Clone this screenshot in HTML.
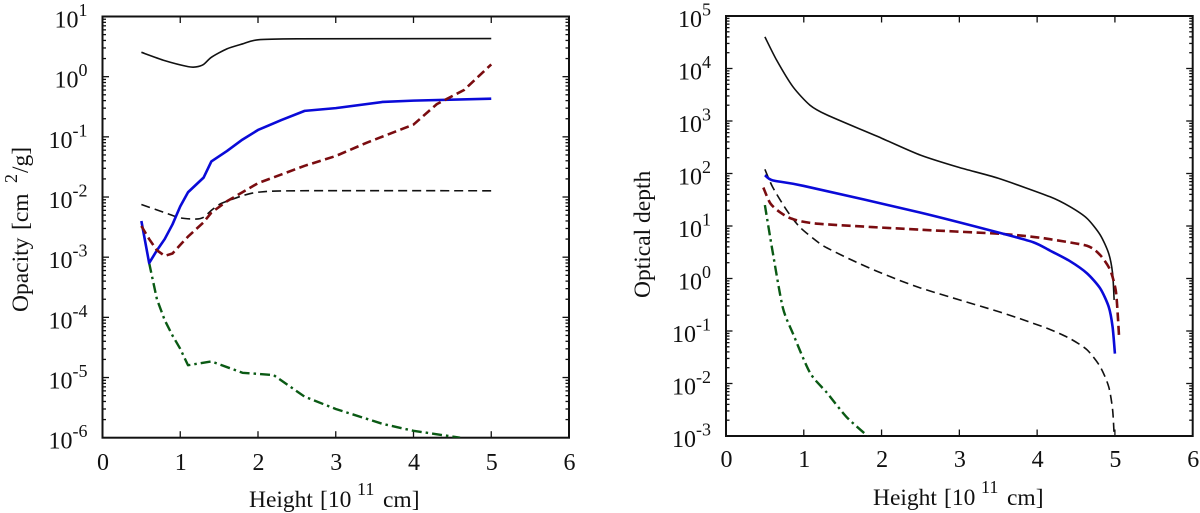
<!DOCTYPE html>
<html lang="en">
<head>
<meta charset="utf-8">
<title>Opacity and optical depth versus height</title>
<style>
html,body{margin:0;padding:0;background:#fff;width:1200px;height:513px;overflow:hidden}
svg{display:block}
text{font-family:"Liberation Serif",serif;fill:#111}
</style>
</head>
<body>
<svg id="fig" width="1200" height="513" viewBox="0 0 1200 513" xmlns="http://www.w3.org/2000/svg">
  <defs>
    <clipPath id="clipL"><rect x="102.5" y="16.5" width="466.5" height="421.2"/></clipPath>
    <clipPath id="clipR"><rect x="726" y="16" width="466.7" height="420"/></clipPath>
  </defs>
  <text y="507" font-size="23.5"><tspan x="249">Height</tspan><tspan x="320">[10</tspan><tspan x="357" y="495" font-size="18">11</tspan><tspan x="383" y="507">cm]</tspan></text>
  <text transform="translate(28,312) rotate(-90)" font-size="23.5"><tspan x="0" y="0">Opacity</tspan><tspan x="82" y="0">[cm</tspan><tspan x="129" y="-11" font-size="18">2</tspan><tspan x="139" y="0">/g]</tspan></text>
  <text y="505" font-size="23.5"><tspan x="873">Height</tspan><tspan x="944">[10</tspan><tspan x="981" y="493" font-size="18">11</tspan><tspan x="1007" y="505">cm]</tspan></text>
  <text transform="translate(650,298) rotate(-90)" font-size="23.5">Optical depth</text>
</svg>
<script>
// Shared x axis ticks
const xTicks = [0, 1, 2, 3, 4, 5, 6];

// Left panel: opacity exponents for the y axis
const opacityExponents = [1, 0, -1, -2, -3, -4, -5, -6];

// Left panel series (height, opacity)
const opBlackSolidX = [0.5, 0.8, 1.1, 1.2, 1.3, 1.4, 1.6, 1.8, 2, 2.5, 5];
const opBlackSolidY = [2.54, 1.85, 1.47, 1.45, 1.6, 2.1, 2.9, 3.5, 4.1, 4.25, 4.3];
const opBlackDashX = [0.5, 0.8, 1, 1.2, 1.3, 1.4, 1.5, 1.6, 1.8, 2, 2.5, 5];
const opBlackDashY = [7.5e-3, 5.5e-3, 4.5e-3, 4.3e-3, 4.6e-3, 6e-3, 7.5e-3, 8.5e-3, 1.05e-2, 1.2e-2, 1.27e-2, 1.27e-2];
const opBlueX = [0.5, 0.6, 0.7, 0.8, 0.9, 1, 1.1, 1.3, 1.4, 1.6, 1.8, 2, 2.3, 2.6, 3, 3.6, 4, 5];
const opBlueY = [4e-3, 8e-4, 1.3e-3, 2e-3, 3.5e-3, 7e-3, 1.2e-2, 2.1e-2, 3.9e-2, 5.8e-2, 9e-2, 0.13, 0.19, 0.27, 0.3, 0.38, 0.4, 0.43];
const opRedX = [0.5, 0.6, 0.7, 0.8, 0.9, 1, 1.1, 1.3, 1.4, 1.6, 1.8, 2, 2.6, 3, 3.4, 4, 4.3, 4.65, 5];
const opRedY = [3.3e-3, 2e-3, 1.3e-3, 1.05e-3, 1.15e-3, 1.6e-3, 2.2e-3, 3.8e-3, 5.5e-3, 8.5e-3, 1.2e-2, 1.7e-2, 3.3e-2, 4.8e-2, 8e-2, 0.16, 0.35, 0.6, 1.6];
const opGreenX = [0.6, 0.7, 0.8, 0.9, 1, 1.1, 1.4, 1.8, 2.2, 2.6, 3, 3.6, 4, 4.6];
const opGreenY = [8e-4, 2e-4, 9e-5, 5e-5, 3e-5, 1.6e-5, 1.85e-5, 1.2e-5, 1.1e-5, 4.8e-6, 3e-6, 1.7e-6, 1.3e-6, 1e-6];

// Right panel: optical depth exponents for the y axis
const depthExponents = [5, 4, 3, 2, 1, 0, -1, -2, -3];

// Right panel series (height, optical depth)
const tauBlackSolidX = [0.5, 0.65, 0.86, 1.08, 1.3, 2, 2.5, 3, 3.5, 4.166, 4.42, 4.64, 4.81, 4.92, 4.97, 4.99];
const tauBlackSolidY = [4e4, 1.45e4, 4.5e3, 2e3, 1.3e3, 470, 224, 130, 81, 36, 23.4, 14, 6.8, 3, 1.26, 0.39];
const tauBlackDashX = [0.5, 0.6, 0.78, 0.95, 1.2, 1.35, 1.63, 1.98, 2.5, 3.52, 3.95, 4.166, 4.42, 4.64, 4.81, 4.92, 4.97, 4.99];
const tauBlackDashY = [120, 55, 20, 9.5, 4.7, 3.5, 2.2, 1.3, 0.66, 0.23, 0.14, 0.107, 0.072, 0.044, 0.021, 0.0087, 0.0032, 0.00105];
const tauBlueX = [0.5, 0.6, 1, 2.5, 3.52, 3.95, 4.166, 4.42, 4.64, 4.81, 4.92, 4.97, 5];
const tauBlueY = [93, 74, 58, 18, 7.4, 4.9, 3.4, 2.15, 1.26, 0.65, 0.29, 0.12, 0.037];
const tauRedX = [0.48, 0.57, 0.7, 0.86, 1.2, 2.5, 3.52, 3.95, 4.166, 4.64, 4.81, 4.94, 5.01, 5.035, 5.055];
const tauRedY = [54, 27, 18, 13.5, 11, 8.5, 7.1, 6.2, 5.6, 4.2, 2.8, 1.45, 0.6, 0.22, 0.07];
const tauGreenX = [0.5, 0.6, 0.73, 0.86, 1.08, 1.3, 1.55, 1.82];
const tauGreenY = [25, 3.2, 0.28, 0.09, 0.016, 0.0066, 0.0023, 0.001];

const NS = 'http://www.w3.org/2000/svg';
const fig = document.getElementById('fig');

function addLine(x1, y1, x2, y2, w, name) {
  const l = document.createElementNS(NS, 'line');
  l.setAttribute('x1', x1);
  l.setAttribute('y1', y1);
  l.setAttribute('x2', x2);
  l.setAttribute('y2', y2);
  l.setAttribute('stroke', '#111');
  l.setAttribute('stroke-width', w);
  
  
  fig.appendChild(l);
}

function pathFrom(xs, ys, sx, sy, smooth) {
  const pts = xs.map((x, i) => [sx(x), sy(ys[i])]);
  let d = 'M' + pts[0][0].toFixed(2) + ' ' + pts[0][1].toFixed(2);
  for (let i = 0; i < pts.length - 1; i++) {
    const p1 = pts[i], p2 = pts[i + 1];
    if (!smooth) {
      d += 'L' + p2[0].toFixed(2) + ' ' + p2[1].toFixed(2);
      continue;
    }
    const p0 = pts[Math.max(0, i - 1)], p3 = pts[Math.min(pts.length - 1, i + 2)];
    const c1x = p1[0] + (p2[0] - p0[0]) / 8, c1y = p1[1] + (p2[1] - p0[1]) / 8;
    const c2x = p2[0] - (p3[0] - p1[0]) / 8, c2y = p2[1] - (p3[1] - p1[1]) / 8;
    d += 'C' + c1x.toFixed(2) + ' ' + c1y.toFixed(2) + ' ' + c2x.toFixed(2) + ' ' + c2y.toFixed(2) + ' ' + p2[0].toFixed(2) + ' ' + p2[1].toFixed(2);
  }
  return d;
}

function addCurve(xs, ys, sx, sy, clip, color, width, dash, smooth, name) {
  const p = document.createElementNS(NS, 'path');
  p.setAttribute('d', pathFrom(xs, ys, sx, sy, smooth));
  p.setAttribute('fill', 'none');
  p.setAttribute('stroke', color);
  p.setAttribute('stroke-width', width);
  p.setAttribute('stroke-linejoin', 'round');
  if (dash) p.setAttribute('stroke-dasharray', dash);
  p.setAttribute('clip-path', 'url(#' + clip + ')');
  
  
  fig.appendChild(p);
}

function drawAxes(box, exps, labelRight, xLabelY, prefix) {
  const sx = x => box.l + (x / 6) * (box.r - box.l);
  const top = exps[0], bottom = exps[exps.length - 1];
  const sy = v => box.t + (top - Math.log10(v)) / (top - bottom) * (box.b - box.t);

  xTicks.forEach(x => {
    if (x > 0 && x < 6) {
      addLine(sx(x), box.b, sx(x), box.b - 6.5, 1.3, prefix + '-x-tick');
      addLine(sx(x), box.t, sx(x), box.t + 6.5, 1.3, prefix + '-x-tick-top');
    }
    const t = document.createElementNS(NS, 'text');
    t.setAttribute('x', sx(x) + 0.5);
    t.setAttribute('y', xLabelY);
    t.setAttribute('text-anchor', 'middle');
    t.setAttribute('font-size', '24');
    t.textContent = x;
    
    
    fig.appendChild(t);
  });

  exps.forEach(e => {
    const y = sy(Math.pow(10, e));
    addLine(box.l, y, box.l + 6.5, y, 1.3, prefix + '-y-tick');
    addLine(box.r, y, box.r - 6.5, y, 1.3, prefix + '-y-tick-right');
    if (e > bottom) {
      for (let m = 2; m <= 9; m++) {
        const my = sy(m * Math.pow(10, e - 1));
        addLine(box.l, my, box.l + 3.5, my, 1.3, prefix + '-y-minor-tick');
        addLine(box.r, my, box.r - 3.5, my, 1.3, prefix + '-y-minor-tick-right');
      }
    }
    const t = document.createElementNS(NS, 'text');
    t.setAttribute('x', labelRight);
    t.setAttribute('y', y + 11);
    t.setAttribute('text-anchor', 'end');
    t.setAttribute('font-size', '24');
    
    
    const base = document.createElementNS(NS, 'tspan');
    base.textContent = '10';
    t.appendChild(base);
    const sup = document.createElementNS(NS, 'tspan');
    sup.setAttribute('font-size', '18');
    sup.setAttribute('dy', '-11.5');
    sup.textContent = e < 0 ? '-' + Math.abs(e) : String(e);
    t.appendChild(sup);
    fig.appendChild(t);
  });

  const f = document.createElementNS(NS, 'rect');
  f.setAttribute('x', box.l);
  f.setAttribute('y', box.t);
  f.setAttribute('width', box.r - box.l);
  f.setAttribute('height', box.b - box.t);
  f.setAttribute('fill', 'none');
  f.setAttribute('stroke', '#111');
  f.setAttribute('stroke-width', '2');
  
  
  fig.appendChild(f);
  return { sx, sy };
}

const BLUE = '#0a0ad8', RED = '#7a0c10', GREEN = '#0a5a14', BLACK = '#111';
const SD_DASH = '9 5', THICK_DASH = '9 4.5', DOT_DASH = '10 4 2.5 4';

const L = drawAxes({ l: 102.5, r: 569, t: 16.5, b: 437.7 }, opacityExponents, 87.5, 470, 'opacity');
addCurve(opBlackSolidX, opBlackSolidY, L.sx, L.sy, 'clipL', BLACK, 1.6, null, true, 'opacity-black-solid-line');
addCurve(opBlackDashX, opBlackDashY, L.sx, L.sy, 'clipL', BLACK, 1.6, SD_DASH, true, 'opacity-black-dashed-line');
addCurve(opGreenX, opGreenY, L.sx, L.sy, 'clipL', GREEN, 2.4, DOT_DASH, false, 'opacity-green-dashdot-line');
addCurve(opBlueX, opBlueY, L.sx, L.sy, 'clipL', BLUE, 2.6, null, false, 'opacity-blue-solid-line');
addCurve(opRedX, opRedY, L.sx, L.sy, 'clipL', RED, 2.6, THICK_DASH, false, 'opacity-red-dashed-line');

const R = drawAxes({ l: 726, r: 1192.7, t: 16, b: 436 }, depthExponents, 711, 467, 'depth');
addCurve(tauBlackSolidX, tauBlackSolidY, R.sx, R.sy, 'clipR', BLACK, 1.6, null, true, 'depth-black-solid-line');
addCurve(tauBlackDashX, tauBlackDashY, R.sx, R.sy, 'clipR', BLACK, 1.6, SD_DASH, true, 'depth-black-dashed-line');
addCurve(tauGreenX, tauGreenY, R.sx, R.sy, 'clipR', GREEN, 2.4, DOT_DASH, true, 'depth-green-dashdot-line');
addCurve(tauRedX, tauRedY, R.sx, R.sy, 'clipR', RED, 2.6, THICK_DASH, true, 'depth-red-dashed-line');
addCurve(tauBlueX, tauBlueY, R.sx, R.sy, 'clipR', BLUE, 2.6, null, true, 'depth-blue-solid-line');
</script>
</body>
</html>
